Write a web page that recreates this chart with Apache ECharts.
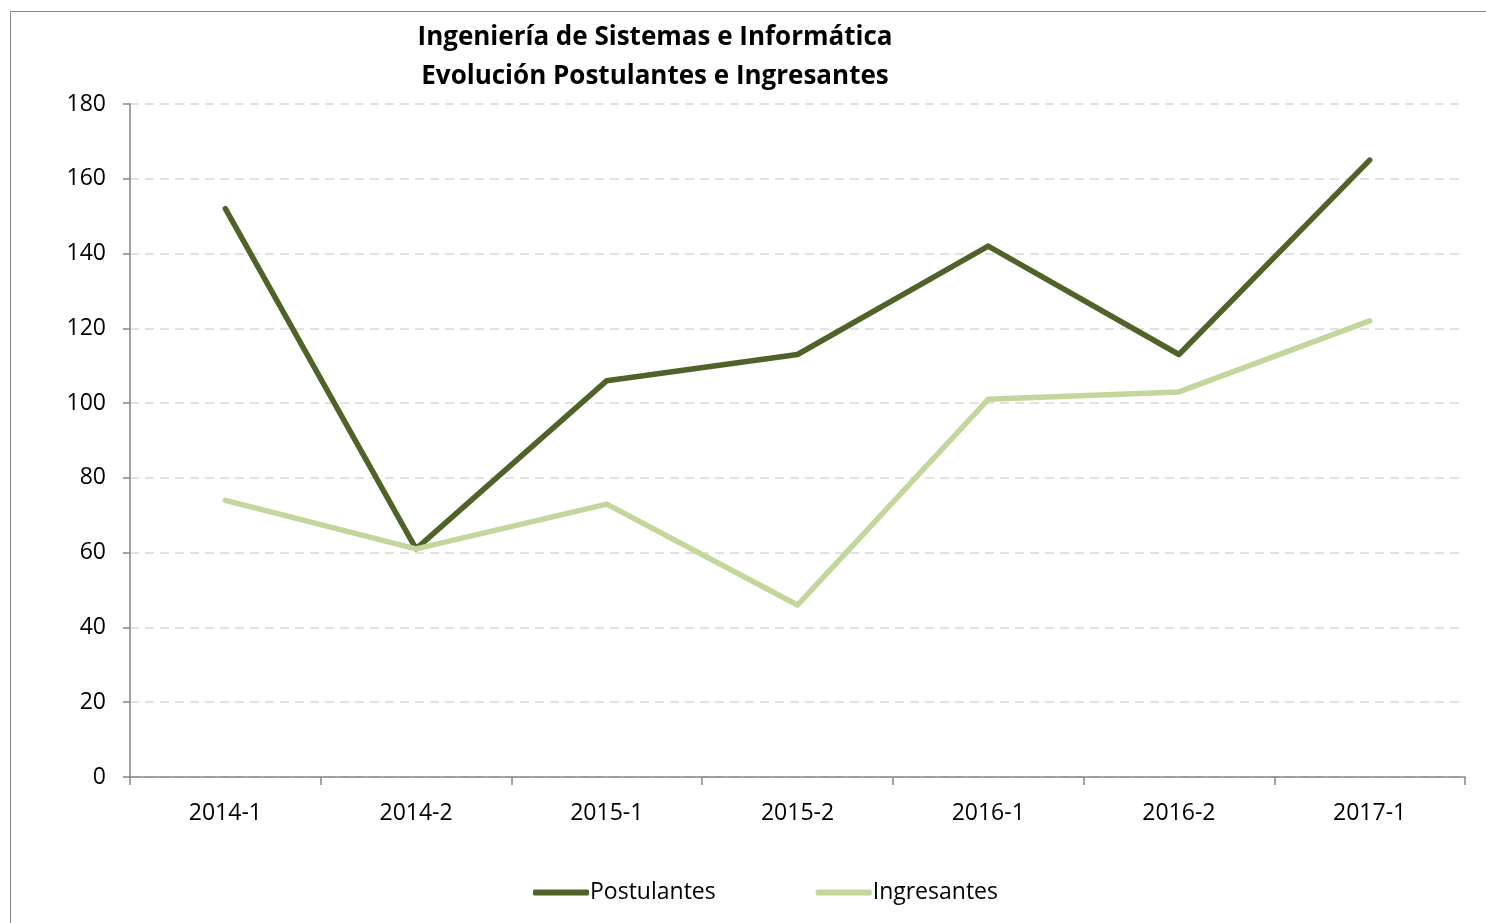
<!DOCTYPE html>
<html>
<head>
<meta charset="utf-8">
<script src="https://cdn.jsdelivr.net/npm/echarts@6/dist/echarts.min.js"></script>
<style>
  body { margin: 0; background: #fff; }
  .frame {
    position: absolute; left: 10px; top: 11px;
    width: 1500px; height: 940px;
    border: 1px solid #878787;
    box-sizing: border-box;
  }
  #chart { position: absolute; left: 0; top: 0; width: 1486px; height: 923px; }
</style>
</head>
<body>
<div class="frame"></div>
<div id="chart"></div>
<script>
// datos del grafico
var periodos = ["2014-1", "2014-2", "2015-1", "2015-2", "2016-1", "2016-2", "2017-1"];
var postulantes = [152, 61, 106, 113, 142, 113, 165];
var ingresantes = [74, 61, 73, 46, 101, 103, 122];

var myChart = echarts.init(document.getElementById("chart"));

var fuente = "'Open Sans', 'Liberation Sans', sans-serif";

var option = {
  animation: false,
  textStyle: { fontFamily: fuente },
  title: {
    text: "Ingeniería de Sistemas e Informática\nEvolución Postulantes e Ingresantes",
    left: 650,
    top: 13,
    textAlign: "center",
    textStyle: {
      fontFamily: fuente,
      fontSize: 26,
      fontWeight: "bold",
      color: "#000",
      lineHeight: 39
    }
  },
  legend: {
    data: ["Postulantes", "Ingresantes"],
    left: 528,
    top: 876,
    itemWidth: 56,
    itemHeight: 6,
    itemGap: 100,
    icon: "roundRect",
    textStyle: { fontFamily: fuente, fontSize: 23, color: "#000", padding: [0, 0, 0, -4] }
  },
  grid: {
    left: 130,
    right: 21,
    top: 104,
    bottom: 146
  },
  xAxis: {
    type: "category",
    data: periodos,
    boundaryGap: true,
    axisLine: { lineStyle: { color: "#868686", width: 1.5 } },
    axisTick: { show: true, length: 8, lineStyle: { color: "#868686", width: 1.5 } },
    axisLabel: { fontFamily: fuente, fontSize: 23, color: "#000", margin: 25 }
  },
  yAxis: {
    type: "value",
    min: 0,
    max: 180,
    interval: 20,
    axisLine: { show: true, lineStyle: { color: "#868686", width: 1.5 } },
    axisTick: { show: true, length: 7, lineStyle: { color: "#868686", width: 1.5 } },
    axisLabel: { fontFamily: fuente, fontSize: 23, color: "#000", margin: 24 },
    splitLine: { show: true, lineStyle: { color: "#d9d9d9", type: [9, 6], width: 1.5 } }
  },
  series: [
    {
      name: "Postulantes",
      type: "line",
      data: postulantes,
      symbol: "none",
      itemStyle: { color: "#4f6228" },
      lineStyle: { color: "#4f6228", width: 5.5, cap: "round", join: "round" }
    },
    {
      name: "Ingresantes",
      type: "line",
      data: ingresantes,
      symbol: "none",
      itemStyle: { color: "#c3d69b" },
      lineStyle: { color: "#c3d69b", width: 5.5, cap: "round", join: "round" }
    }
  ]
};

myChart.setOption(option);
</script>
</body>
</html>
